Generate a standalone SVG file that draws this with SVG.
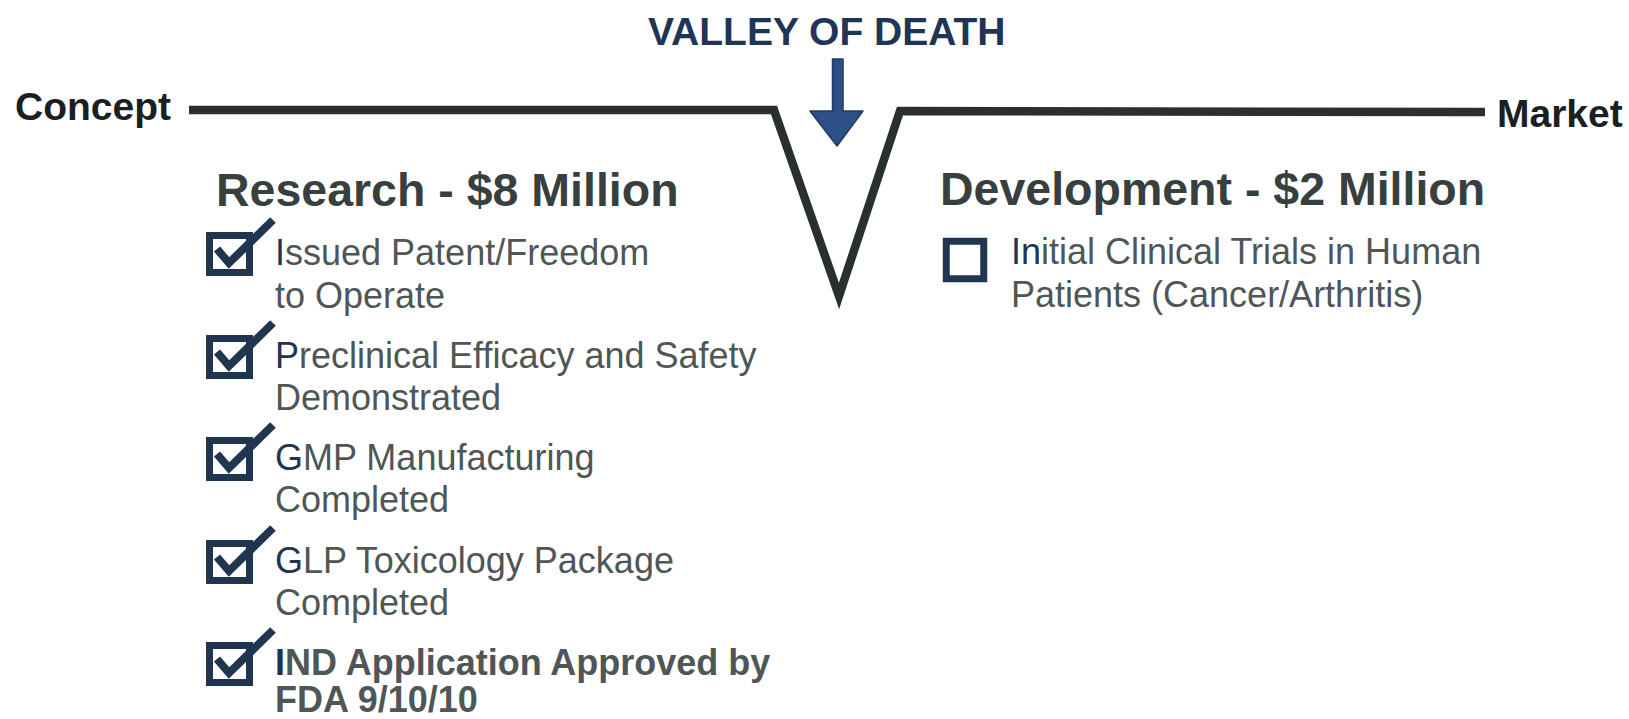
<svg xmlns="http://www.w3.org/2000/svg" width="1629" height="719" viewBox="0 0 1629 719">
  <style>
    .lbl { font-family: "Liberation Sans", Arial, sans-serif; font-weight: bold; fill: #1c1f21; font-size: 39px; }
    .title { font-family: "Liberation Sans", Arial, sans-serif; font-weight: bold; fill: #1f3556; font-size: 39px; }
    .head { font-family: "Liberation Sans", Arial, sans-serif; font-weight: bold; fill: #383f3f; font-size: 46.5px; }
    .item { font-family: "Liberation Sans", Arial, sans-serif; fill: #4f5656; font-size: 36px; }
    .itemb { font-family: "Liberation Sans", Arial, sans-serif; font-weight: bold; fill: #4f5656; font-size: 36px; }
    .lead { fill: #1f3550; }
    .box { fill: none; stroke: #1f3550; stroke-width: 7; }
    .tick { fill: none; stroke: #1f3550; stroke-width: 8; stroke-linejoin: miter; stroke-linecap: butt; }
    .valley { fill: none; stroke: #2a2f2f; stroke-width: 8.5; stroke-linejoin: miter; stroke-miterlimit: 20; }
  </style>
  <defs>
    <g id="checked">
      <rect class="box" x="3.5" y="3.5" width="40" height="37"/>
      <polyline class="tick" points="11,17 23,31 67,-12"/>
    </g>
  </defs>
  <rect width="1629" height="719" fill="#ffffff"/>

  <!-- timeline with the valley -->
  <g id="connectors">
    <polyline class="valley" points="189,110 774,110 839,296 900,111 1485,112"/>
    <path id="valley-arrow" d="M832.5,59 H843 V111 H863 L837,146 L810,111 H832.5 Z" fill="#2c4f86" stroke="#1f3a66" stroke-width="1.5" stroke-linejoin="round"/>
  </g>

  <g id="title"><text class="title" x="648" y="45">VALLEY OF DEATH</text></g>
  <g id="concept"><text class="lbl" x="15" y="120">Concept</text></g>
  <g id="market"><text class="lbl" x="1497" y="127">Market</text></g>

  <g id="research">
    <text class="head" x="216" y="206">Research - $8 Million</text>
    <g id="item-patent">
      <use href="#checked" x="206" y="232"/>
      <text class="item" x="275" y="265"><tspan class="lead">I</tspan>ssued Patent/Freedom</text>
      <text class="item" x="275" y="308">to Operate</text>
    </g>
    <g id="item-preclinical">
      <use href="#checked" x="206" y="335"/>
      <text class="item" x="275" y="368"><tspan class="lead">P</tspan>reclinical Efficacy and Safety</text>
      <text class="item" x="275" y="410">Demonstrated</text>
    </g>
    <g id="item-gmp">
      <use href="#checked" x="206" y="437"/>
      <text class="item" x="275" y="470"><tspan class="lead">G</tspan>MP Manufacturing</text>
      <text class="item" x="275" y="512">Completed</text>
    </g>
    <g id="item-glp">
      <use href="#checked" x="206" y="540"/>
      <text class="item" x="275" y="573"><tspan class="lead">G</tspan>LP Toxicology Package</text>
      <text class="item" x="275" y="615">Completed</text>
    </g>
    <g id="item-ind">
      <use href="#checked" x="206" y="642"/>
      <text class="itemb" x="275" y="675"><tspan class="lead">I</tspan>ND Application Approved by</text>
      <text class="itemb" x="275" y="712">FDA 9/10/10</text>
    </g>
  </g>

  <g id="development">
    <text class="head" x="940" y="205">Development - $2 Million</text>
    <g id="item-trials">
      <rect class="box" x="946.25" y="241.25" width="37.5" height="37.5" stroke-width="6.5"/>
      <text class="item" x="1011" y="264"><tspan class="lead">In</tspan>itial Clinical Trials in Human</text>
      <text class="item" x="1011" y="307">Patients (Cancer/Arthritis)</text>
    </g>
  </g>
</svg>
